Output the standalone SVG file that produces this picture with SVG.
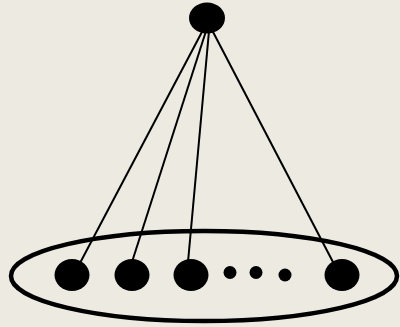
<svg xmlns="http://www.w3.org/2000/svg" width="400" height="327" viewBox="0 0 400 327">
<style>
.n{fill:#000}
.e{stroke:#000;stroke-width:2;fill:none}
</style>
<rect width="400" height="327" fill="#ECEAE1"/>
<g id="connectors">
<line class="e" x1="203" y1="30" x2="80" y2="263"/>
<line class="e" x1="206" y1="31" x2="132" y2="262"/>
<line class="e" x1="209" y1="31" x2="188" y2="262"/>
<line class="e" x1="212" y1="30" x2="334" y2="264"/>
</g>
<g id="set"><ellipse cx="204" cy="276" rx="193" ry="45" fill="none" stroke="#000" stroke-width="4.5"/></g>
<g id="top"><ellipse class="n" cx="207" cy="18" rx="18" ry="15.5"/></g>
<g id="n1"><ellipse class="n" cx="72" cy="275" rx="17.5" ry="16"/></g>
<g id="n2"><ellipse class="n" cx="132" cy="275" rx="17.5" ry="16"/></g>
<g id="n3"><ellipse class="n" cx="191" cy="275" rx="17.5" ry="16"/></g>
<g id="d1"><circle class="n" cx="230" cy="272.5" r="6.5"/></g>
<g id="d2"><circle class="n" cx="256" cy="272.5" r="6.5"/></g>
<g id="d3"><circle class="n" cx="285" cy="275" r="6.5"/></g>
<g id="n4"><ellipse class="n" cx="342" cy="275" rx="17.5" ry="16"/></g>
</svg>
